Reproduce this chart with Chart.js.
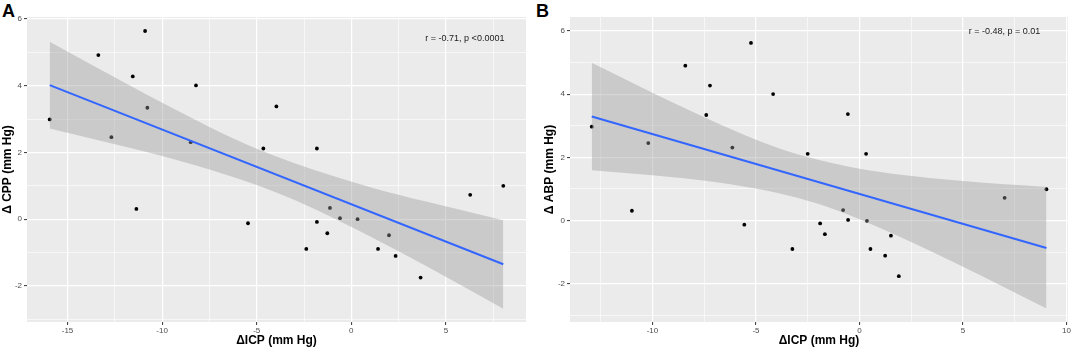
<!DOCTYPE html>
<html>
<head>
<meta charset="utf-8">
<script src="https://cdn.jsdelivr.net/npm/chart.js@4.4.0/dist/chart.umd.min.js"></script>
<style>
body{margin:0;background:#fff;width:1072px;height:348px;position:relative;overflow:hidden;font-family:"Liberation Sans",Arial,sans-serif}
canvas{position:absolute;top:0}
#cA{left:0}
#cB{left:535px}
.tag{position:absolute;top:2px;font-weight:bold;font-size:18px;line-height:1;color:#000}
</style>
</head>
<body>
<div class="tag" style="left:2px">A</div>
<div class="tag" style="left:536px">B</div>
<canvas id="cA" width="535" height="348"></canvas>
<canvas id="cB" width="537" height="348"></canvas>
<script>
// panel A: delta ICP vs delta CPP
const icpA = [-15.94, -13.37, -12.68, -11.55, -10.90, -10.78, -8.49, -8.21, -4.65, -3.96, -1.82, -11.36, -5.46,
  -2.38, -1.82, -1.27, -1.13, -0.60, 0.33, 1.41, 1.99, 2.34, 3.66, 6.28, 8.03]
const cppA = [2.99, 4.92, 2.46, 4.28, 5.64, 3.34, 2.31, 4.01, 2.12, 3.38, 2.12, 0.31, -0.12,
  -0.89, -0.08, -0.42, 0.34, 0.03, 0.00, -0.89, -0.48, -1.10, -1.75, 0.73, 1.00]
const fitXA = [-15.94, 8.03]
const fitYA = [4.02, -1.35]
const bandXA = [-15.94, -12, -9, -6, -4, -2, 1, 4, 8.03]
const bandHiA = [5.32, 4.10, 3.20, 2.36, 1.89, 1.48, 0.96, 0.52, -0.03]
const bandLoA = [2.72, 2.18, 1.74, 1.22, 0.81, 0.32, -0.52, -1.42, -2.68]

// panel B: delta ICP vs delta ABP
const icpB = [-12.93, -10.20, -8.41, -7.22, -7.40, -5.24, -6.14, -4.17, -0.56, -2.50, 0.32, -10.99, -5.56,
  -3.24, -1.90, -1.67, -0.79, -0.55, 0.36, 0.53, 1.24, 1.52, 1.90, 7.01, 9.03]
const abpB = [2.97, 2.45, 4.90, 4.27, 3.34, 5.62, 2.31, 4.00, 3.37, 2.11, 2.11, 0.31, -0.13,
  -0.90, -0.09, -0.43, 0.33, 0.02, -0.01, -0.90, -1.11, -0.48, -1.76, 0.72, 0.99]
const fitXB = [-12.93, 9.03]
const fitYB = [3.29, -0.87]
const bandXB = [-12.93, -10, -7, -4, -2, 0, 2, 5, 9.03]
const bandHiB = [4.99, 4.04, 3.12, 2.31, 1.92, 1.64, 1.45, 1.25, 1.06]
const bandLoB = [1.59, 1.43, 1.22, 0.88, 0.53, 0.04, -0.53, -1.46, -2.78]

// ticks
const xTicksA = [-15, -10, -5, 0, 5]
const xMinorA = [-12.5, -7.5, -2.5, 2.5, 7.5]
const xTicksB = [-10, -5, 0, 5, 10]
const xMinorB = [-12.5, -7.5, -2.5, 2.5, 7.5]
const yTicks = [-2, 0, 2, 4, 6]
const yMinor = [-3, -1, 1, 3, 5]

const FONT = '"Liberation Sans", Arial, sans-serif'

const panelBg = {
  id: 'panelBg',
  beforeDraw(chart) {
    const a = chart.chartArea, ctx = chart.ctx
    ctx.save()
    ctx.fillStyle = '#EBEBEB'
    ctx.fillRect(a.left, a.top, a.right - a.left, a.bottom - a.top)
    ctx.restore()
  }
}

const annot = {
  id: 'annot',
  afterDatasetsDraw(chart, args, opts) {
    const ctx = chart.ctx
    ctx.save()
    ctx.font = '9px ' + FONT
    ctx.fillStyle = '#1A1A1A'
    ctx.textAlign = 'center'
    ctx.textBaseline = 'middle'
    ctx.fillText(opts.text, chart.scales.x.getPixelForValue(opts.x), chart.scales.y.getPixelForValue(opts.y))
    ctx.restore()
  }
}

function pts(xs, ys) {
  return xs.map((v, i) => ({x: v, y: ys[i]}))
}

function axis(major, minor, lo, hi, size, title, titlePad, horizontal) {
  const isMajor = c => c.tick && major.includes(c.tick.value)
  return {
    type: 'linear',
    min: lo,
    max: hi,
    afterBuildTicks: s => {
      s.ticks = major.concat(minor).sort((a, b) => a - b).map(v => ({value: v}))
    },
    afterFit: s => {
      if (horizontal) s.height = size
      else s.width = size
    },
    ticks: {
      autoSkip: false,
      maxRotation: 0,
      padding: horizontal ? 1 : 2,
      color: '#4D4D4D',
      font: {family: FONT, size: 8},
      callback: v => major.includes(v) ? String(v) : ''
    },
    grid: {
      color: '#FFFFFF',
      lineWidth: c => isMajor(c) ? 1.2 : 0.6,
      tickLength: 3,
      tickColor: c => isMajor(c) ? '#333333' : 'rgba(0,0,0,0)',
      tickWidth: 1
    },
    border: {display: false},
    title: {
      display: true,
      text: title,
      color: '#000',
      font: {family: FONT, size: 12, weight: 'bold'},
      padding: horizontal ? {top: 0, bottom: 0} : {top: titlePad, bottom: 0}
    }
  }
}

function drawPanel(id, p) {
  return new Chart(document.getElementById(id), {
    type: 'scatter',
    data: {
      datasets: [
        {data: pts(p.x, p.y), pointRadius: 1.9, pointBackgroundColor: '#000', pointBorderWidth: 0, order: 3},
        {data: pts(p.bandX, p.hi), showLine: true, pointRadius: 0, borderWidth: 0, borderColor: 'rgba(0,0,0,0)',
          fill: '+1', backgroundColor: 'rgba(153,153,153,0.4)', cubicInterpolationMode: 'monotone', order: 2},
        {data: pts(p.bandX, p.lo), showLine: true, pointRadius: 0, borderWidth: 0, borderColor: 'rgba(0,0,0,0)',
          fill: false, cubicInterpolationMode: 'monotone', order: 2},
        {data: pts(p.fitX, p.fitY), showLine: true, pointRadius: 0, borderColor: '#3366FF', borderWidth: 2, order: 1}
      ]
    },
    options: {
      responsive: false,
      animation: false,
      layout: {padding: {top: 17, right: p.padRight, left: 0, bottom: 0}},
      plugins: {
        legend: {display: false},
        tooltip: {enabled: false},
        annot: {text: p.note, x: p.noteX, y: p.noteY}
      },
      scales: {
        x: axis(p.xTicks, p.xMinor, p.xMin, p.xMax, 26, 'ΔICP (mm Hg)', 0, true),
        y: axis(yTicks, yMinor, p.yMin, p.yMax, p.yWidth, p.yTitle, p.yTitlePad, false)
      }
    },
    plugins: [panelBg, annot]
  })
}

drawPanel('cA', {
  x: icpA, y: cppA, fitX: fitXA, fitY: fitYA, bandX: bandXA, hi: bandHiA, lo: bandLoA,
  xTicks: xTicksA, xMinor: xMinorA, xMin: -17.14, xMax: 9.23, yMin: -3.08, yMax: 6.06,
  yWidth: 27, yTitle: 'Δ CPP (mm Hg)', yTitlePad: 0.5, padRight: 9,
  note: 'r = -0.71, p <0.0001', noteX: 6.0, noteY: 5.43
})

drawPanel('cB', {
  x: icpB, y: abpB, fitX: fitXB, fitY: fitYB, bandX: bandXB, hi: bandHiB, lo: bandLoB,
  xTicks: xTicksB, xMinor: xMinorB, xMin: -13.98, xMax: 10.07, yMin: -3.21, yMax: 6.44,
  yWidth: 35, yTitle: 'Δ ABP (mm Hg)', yTitlePad: 7.3, padRight: 4,
  note: 'r = -0.48, p = 0.01', noteX: 7.0, noteY: 5.97
})
</script>
</body>
</html>
